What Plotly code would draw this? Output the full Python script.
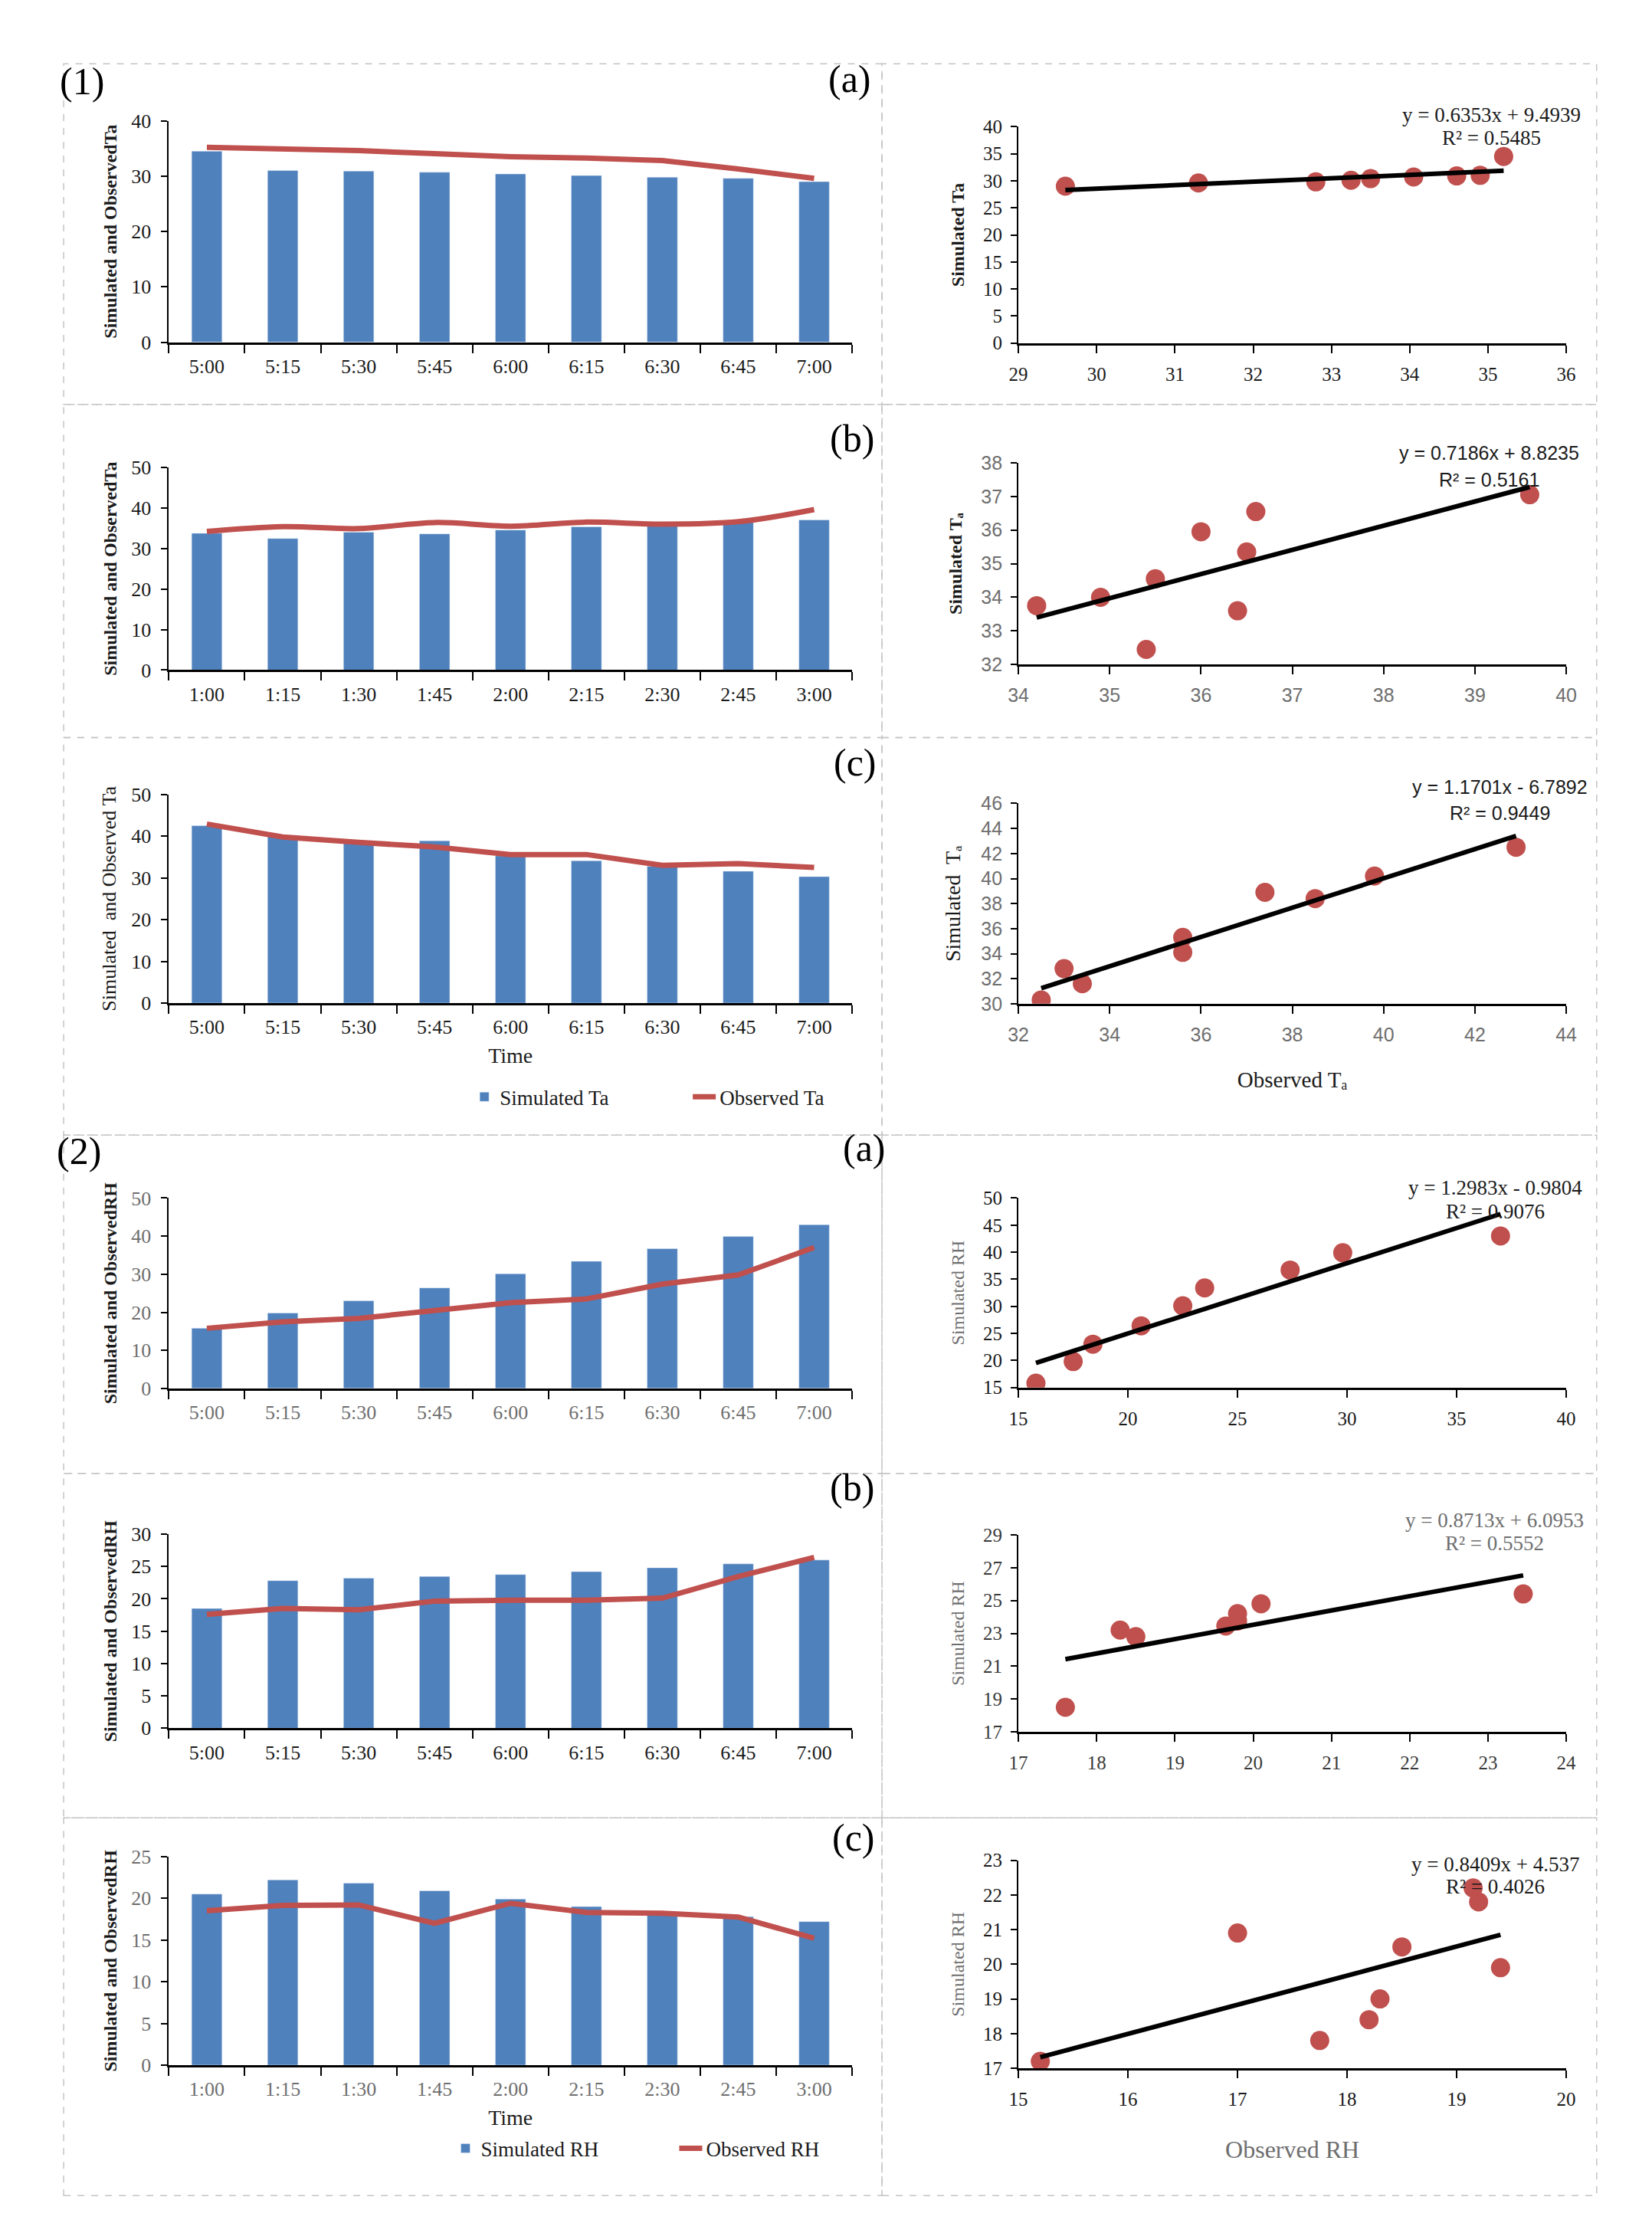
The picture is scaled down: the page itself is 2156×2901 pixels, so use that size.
import plotly.graph_objects as go

# ---- data ----
times_a = ["5:00", "5:15", "5:30", "5:45", "6:00", "6:15", "6:30", "6:45", "7:00"]
times_b = ["1:00", "1:15", "1:30", "1:45", "2:00", "2:15", "2:30", "2:45", "3:00"]

# (1) air temperature Ta
sim_ta_a = [34.5, 31.0, 30.9, 30.7, 30.4, 30.1, 29.8, 29.6, 29.0]
obs_ta_a = [35.2, 34.9, 34.6, 34.05, 33.5, 33.25, 32.8, 31.3, 29.6]
sim_ta_b = [33.75, 32.45, 34.0, 33.6, 34.55, 35.35, 35.95, 36.55, 37.05]
obs_ta_b = [34.2, 35.4, 34.9, 36.4, 35.5, 36.5, 36.0, 36.6, 39.6]
sim_ta_c = [42.5, 40.2, 38.4, 38.9, 35.3, 34.1, 32.8, 31.6, 30.3]
obs_ta_c = [42.9, 39.8, 38.5, 37.4, 35.6, 35.6, 33.0, 33.4, 32.5]

# (2) relative humidity RH
sim_rh_a = [15.8, 19.8, 23.0, 26.4, 30.1, 33.4, 36.7, 39.9, 43.0]
obs_rh_a = [15.8, 17.5, 18.4, 20.6, 22.5, 23.5, 27.4, 29.8, 37.0]
sim_rh_b = [18.5, 22.8, 23.2, 23.45, 23.75, 24.2, 24.8, 25.4, 26.0]
obs_rh_b = [17.6, 18.5, 18.3, 19.65, 19.8, 19.8, 20.1, 23.45, 26.4]
sim_rh_c = [20.5, 22.2, 21.8, 20.9, 19.9, 19.0, 18.4, 17.8, 17.2]
obs_rh_c = [18.5, 19.15, 19.2, 17.0, 19.4, 18.3, 18.2, 17.75, 15.2]

# trendline coefficients printed on the scatter panels
slopes = [0.6353, 0.7186, 1.1701, 1.2983, 0.8713, 0.8409]
intercepts = [9.4939, 8.8235, -6.7892, -0.9804, 6.0953, 4.537]
r2_values = [0.5485, 0.5161, 0.9449, 0.9076, 0.5552, 0.4026]
eq_texts = ["y = 0.6353x + 9.4939", "y = 0.7186x + 8.8235", "y = 1.1701x - 6.7892",
            "y = 1.2983x - 0.9804", "y = 0.8713x + 6.0953", "y = 0.8409x + 4.537"]

BLUE = "#4F81BD"
RED = "#C0504D"
BLACK = "#1a1a1a"
GRAY = "#6e6e6e"
SERIF = "Liberation Serif"
SANS = "Liberation Sans"

panels = [
    dict(t=times_a, sim=sim_ta_a, obs=obs_ta_a, n=9, by=[0, 40], bd=10,
         btitle="<b>Simulated and ObservedTa</b>", bfs=24, btick=BLACK, bshape="linear",
         sx=[29, 36], sxd=1, sy=[0, 40], syd=5, stitle="<b>Simulated Ta</b>", stc=BLACK,
         sfont=SERIF, stick=BLACK, eqfont=SERIF, eqc=BLACK),
    dict(t=times_b, sim=sim_ta_b, obs=obs_ta_b, n=9, by=[0, 50], bd=10,
         btitle="<b>Simulated and ObservedTa</b>", bfs=24, btick=BLACK, bshape="spline",
         sx=[34, 40], sxd=1, sy=[32, 38], syd=1, stitle="<b>Simulated Tₐ</b>", stc=BLACK,
         sfont=SANS, stick=GRAY, eqfont=SANS, eqc=BLACK),
    dict(t=times_a, sim=sim_ta_c, obs=obs_ta_c, n=9, by=[0, 50], bd=10,
         btitle="Simulated  and Observed Ta", bfs=26, btick=BLACK, bshape="linear",
         sx=[32, 44], sxd=2, sy=[30, 46], syd=2, stitle="Simulated  Tₐ", stc=BLACK,
         sfont=SANS, stick=GRAY, eqfont=SANS, eqc=BLACK),
    dict(t=times_a, sim=sim_rh_a, obs=obs_rh_a, n=9, by=[0, 50], bd=10,
         btitle="<b>Simulated and ObservedRH</b>", bfs=24, btick=GRAY, bshape="linear",
         sx=[15, 40], sxd=5, sy=[15, 50], syd=5, stitle="Simulated RH", stc=GRAY,
         sfont=SERIF, stick=BLACK, eqfont=SERIF, eqc=BLACK),
    dict(t=times_a, sim=sim_rh_b, obs=obs_rh_b, n=8, by=[0, 30], bd=5,
         btitle="<b>Simulated and ObservedRH</b>", bfs=24, btick=BLACK, bshape="linear",
         sx=[17, 24], sxd=1, sy=[17, 29], syd=2, stitle="Simulated RH", stc=GRAY,
         sfont=SERIF, stick="#3a3a3a", eqfont=SERIF, eqc=GRAY),
    dict(t=times_b, sim=sim_rh_c, obs=obs_rh_c, n=9, by=[0, 25], bd=5,
         btitle="<b>Simulated and ObservedRH</b>", bfs=24, btick=GRAY, bshape="linear",
         sx=[15, 20], sxd=1, sy=[17, 23], syd=1, stitle="Simulated RH", stc=GRAY,
         sfont=SERIF, stick=BLACK, eqfont=SERIF, eqc=BLACK),
]

W, H = 2156, 2901
left_x = [0.097, 0.516]
right_x = [0.618, 0.954]
left_y = [(0.8494, 0.950), (0.7004, 0.7925), (0.5491, 0.6439),
          (0.374, 0.4605), (0.2196, 0.3078), (0.0665, 0.1613)]
right_y = [(0.849, 0.9473), (0.7029, 0.7946), (0.5488, 0.6398),
           (0.3744, 0.4605), (0.2179, 0.3075), (0.0651, 0.1596)]
# centre x, y of the equation line and of the R² line (pixels)
eq_pos = [(1958, 137, 168), (1955, 583, 618), (1969, 1023, 1058),
          (1963, 1552, 1583), (1962, 1990, 2020), (1963, 2443, 2473)]

fig = go.Figure()
layout = {}
annotations = []

for k, p in enumerate(panels):
    bx, by_ = f"x{2*k+1}", f"y{2*k+1}"
    sx, sy = f"x{2*k+2}", f"y{2*k+2}"
    legend_name = {2: "legend", 5: "legend2"}.get(k)
    is_rh = k >= 3
    sim_name = "Simulated RH" if is_rh else "Simulated Ta"
    obs_name = "Observed RH" if is_rh else "Observed Ta"

    fig.add_trace(go.Bar(x=p["t"], y=p["sim"], xaxis=bx, yaxis=by_, marker_color=BLUE,
                         name=sim_name, showlegend=legend_name is not None,
                         legend=legend_name or "legend"))
    fig.add_trace(go.Scatter(x=p["t"], y=p["obs"], xaxis=bx, yaxis=by_, mode="lines",
                             line=dict(color=RED, width=7, shape=p["bshape"], smoothing=1),
                             name=obs_name, showlegend=legend_name is not None,
                             legend=legend_name or "legend"))

    xs = p["obs"][:p["n"]]
    ys = p["sim"][:p["n"]]
    fig.add_trace(go.Scatter(x=xs, y=ys, xaxis=sx, yaxis=sy, mode="markers",
                             marker=dict(color=RED, size=25), showlegend=False))
    x_lo, x_hi = min(xs), max(xs)
    fig.add_trace(go.Scatter(x=[x_lo, x_hi],
                             y=[slopes[k] * x_lo + intercepts[k], slopes[k] * x_hi + intercepts[k]],
                             xaxis=sx, yaxis=sy, mode="lines",
                             line=dict(color="black", width=6), showlegend=False))

    tick_font = dict(family=SERIF, size=26, color=p["btick"])
    bar_xaxis = dict(domain=left_x, anchor=by_, type="category", tickson="boundaries",
                     ticks="outside", ticklen=11, tickwidth=2, tickcolor="black",
                     showline=True, linewidth=3, linecolor="black", showgrid=False,
                     tickfont=tick_font, ticklabelstandoff=6, fixedrange=True)
    bar_yaxis = dict(domain=list(left_y[k]), anchor=bx, range=p["by"], dtick=p["bd"],
                     ticks="outside", ticklen=8, tickwidth=2, tickcolor="black",
                     showline=True, linewidth=2, linecolor="black", showgrid=False,
                     zeroline=False, tickfont=tick_font, ticklabelstandoff=8,
                     title=dict(text=p["btitle"], standoff=12,
                                font=dict(family=SERIF, size=p["bfs"], color=BLACK)))
    if k in (2, 5):
        bar_xaxis["title"] = dict(text="Time", standoff=14,
                                  font=dict(family=SERIF, size=28, color=BLACK))

    s_tick = dict(family=p["sfont"], size=25, color=p["stick"])
    sc_xaxis = dict(domain=right_x, anchor=sy, range=p["sx"], dtick=p["sxd"], tick0=p["sx"][0],
                    ticks="outside", ticklen=10, tickwidth=2, tickcolor="black",
                    showline=True, linewidth=3, linecolor="black", showgrid=False,
                    zeroline=False, tickfont=s_tick, ticklabelstandoff=6)
    sc_yaxis = dict(domain=list(right_y[k]), anchor=sx, range=p["sy"], dtick=p["syd"], tick0=p["sy"][0],
                    ticks="outside", ticklen=8, tickwidth=2, tickcolor="black",
                    showline=True, linewidth=2, linecolor="black", showgrid=False,
                    zeroline=False, tickfont=s_tick, ticklabelstandoff=6,
                    title=dict(text=p["stitle"], standoff=18,
                               font=dict(family=SERIF, size=24 if k != 2 else 28, color=p["stc"])))
    if k == 2:
        sc_xaxis["title"] = dict(text="Observed Tₐ", standoff=36,
                                 font=dict(family=SERIF, size=29, color=BLACK))
    if k == 5:
        sc_xaxis["title"] = dict(text="Observed RH", standoff=42,
                                 font=dict(family=SERIF, size=32, color=GRAY))

    layout[f"xaxis{2*k+1}"] = bar_xaxis
    layout[f"yaxis{2*k+1}"] = bar_yaxis
    layout[f"xaxis{2*k+2}"] = sc_xaxis
    layout[f"yaxis{2*k+2}"] = sc_yaxis

    ex, ey1, ey2 = eq_pos[k]
    eq_font = dict(family=p["eqfont"], size=27 if p["eqfont"] == SERIF else 25, color=p["eqc"])
    for txt, ey in ((eq_texts[k], ey1), (f"R² = {r2_values[k]:.4f}", ey2)):
        annotations.append(dict(text=txt, xref="paper", yref="paper", x=ex / W, y=1 - ey / H,
                                xanchor="center", yanchor="middle", showarrow=False, font=eq_font))

# panel labels
panel_labels = [("(1)", 94, 93), ("(a)", 1109, 90), ("(b)", 1112, 564), ("(c)", 1116, 991),
                ("(2)", 90, 1503), ("(a)", 1129, 1499), ("(b)", 1112, 1946), ("(c)", 1114, 2408)]
for txt, px, py in panel_labels:
    annotations.append(dict(text=txt, xref="paper", yref="paper", x=px / W, y=1 - py / H,
                            xanchor="center", yanchor="middle", showarrow=False,
                            font=dict(family=SERIF, size=50, color="black")))

# dashed panel frames
row_edges = [70, 519, 958, 1482, 1928, 2382, 2880]
col_edges = [70, 1152, 2097]
shapes = []
for r in range(6):
    for c in range(2):
        shapes.append(dict(type="rect", xref="paper", yref="paper",
                           x0=col_edges[c] / W, x1=col_edges[c + 1] / W,
                           y0=1 - row_edges[r + 1] / H, y1=1 - row_edges[r] / H,
                           line=dict(color="#c4c4c4", width=1.5, dash="dash"), layer="below"))

legend_style = dict(orientation="h", xanchor="left", yanchor="middle", bgcolor="rgba(0,0,0,0)",
                    font=dict(family=SERIF, size=27, color=BLACK),
                    entrywidthmode="pixels", traceorder="normal")

fig.update_layout(
    width=W, height=H,
    margin=dict(l=0, r=0, t=0, b=0),
    paper_bgcolor="white", plot_bgcolor="white",
    bargap=0.6,
    showlegend=True,
    legend=dict(x=606 / W, y=1 - 1432 / H, entrywidth=242, **legend_style),
    legend2=dict(x=581 / W, y=1 - 2818 / H, entrywidth=249, **legend_style),
    annotations=annotations,
    shapes=shapes,
    **layout,
)

fig.write_html("out.html", config={"displayModeBar": False},
               post_script="document.body.style.margin='0px';")
